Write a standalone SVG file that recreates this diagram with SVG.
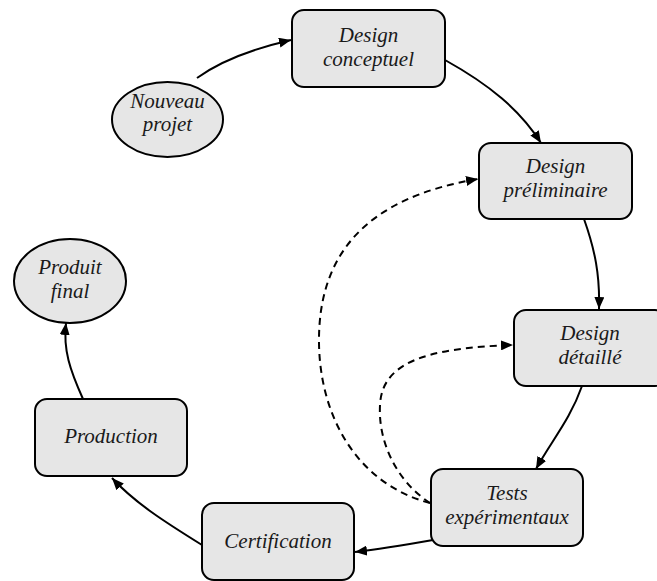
<svg xmlns="http://www.w3.org/2000/svg" width="657" height="581" viewBox="0 0 657 581">
<style>
.node rect, .node ellipse { fill: #e6e6e6; stroke: #000; stroke-width: 2; }
.node text { font-family: 'Liberation Serif', 'DejaVu Serif', serif; font-style: italic; font-size: 21px; fill: #1a1a1a; text-anchor: middle; }
.edge { fill: none; stroke: #000; stroke-width: 2; }
.dash { stroke-dasharray: 7 5; }
</style>
<defs>
<marker id="ah" viewBox="0 0 12 10" refX="12" refY="5" markerWidth="12" markerHeight="10" markerUnits="userSpaceOnUse" orient="auto">
<path d="M0,0 L12,5 L0,10 Z" fill="#000"/>
</marker>
</defs>
<rect width="657" height="581" fill="#fff"/>
<g id="connectors">
<path class="edge" d="M197,78 C222,60 252,49 291,40" marker-end="url(#ah)"/>
<path class="edge" d="M445,60 C490,85 520,110 541,143" marker-end="url(#ah)"/>
<path class="edge" d="M584,219 C595,250 600,275 599,309" marker-end="url(#ah)"/>
<path class="edge" d="M582,386 C570,420 552,440 536,469" marker-end="url(#ah)"/>
<path class="edge" d="M433,540 C410,544 380,549 355,552" marker-end="url(#ah)"/>
<path class="edge" d="M202,545 C165,522 135,503 112,478" marker-end="url(#ah)"/>
<path class="edge" d="M83,399 C70,370 63,350 66,323" marker-end="url(#ah)"/>
<path class="edge dash" d="M430,503 C360,485 320,420 319,343 C318,255 365,198 478,179" marker-end="url(#ah)"/>
<path class="edge dash" d="M430,503 C395,480 378,440 380,405 C382,365 420,348 513,345" marker-end="url(#ah)"/>
</g>
<g id="nouveau-projet" class="node">
<ellipse cx="167.5" cy="119.5" rx="55.5" ry="37.5"/>
<text x="167.5" y="108">Nouveau</text>
<text x="167.5" y="131">projet</text>
</g>
<g id="design-conceptuel" class="node">
<rect x="292" y="10" width="153" height="77" rx="12"/>
<text x="368.5" y="42">Design</text>
<text x="368.5" y="66">conceptuel</text>
</g>
<g id="design-preliminaire" class="node">
<rect x="479" y="143" width="153" height="76" rx="12"/>
<text x="555.5" y="173">Design</text>
<text x="555.5" y="197">préliminaire</text>
</g>
<g id="design-detaille" class="node">
<rect x="514" y="310" width="153" height="76" rx="12"/>
<text x="590" y="340">Design</text>
<text x="590" y="364">détaillé</text>
</g>
<g id="tests-experimentaux" class="node">
<rect x="431" y="469" width="152" height="77" rx="12"/>
<text x="507" y="500">Tests</text>
<text x="507" y="524">expérimentaux</text>
</g>
<g id="certification" class="node">
<rect x="202" y="503" width="152" height="77" rx="12"/>
<text x="278" y="548">Certification</text>
</g>
<g id="production" class="node">
<rect x="35" y="399" width="152" height="77" rx="12"/>
<text x="111" y="443">Production</text>
</g>
<g id="produit-final" class="node">
<ellipse cx="70" cy="281" rx="56" ry="42"/>
<text x="70" y="274">Produit</text>
<text x="70" y="298">final</text>
</g>
</svg>
